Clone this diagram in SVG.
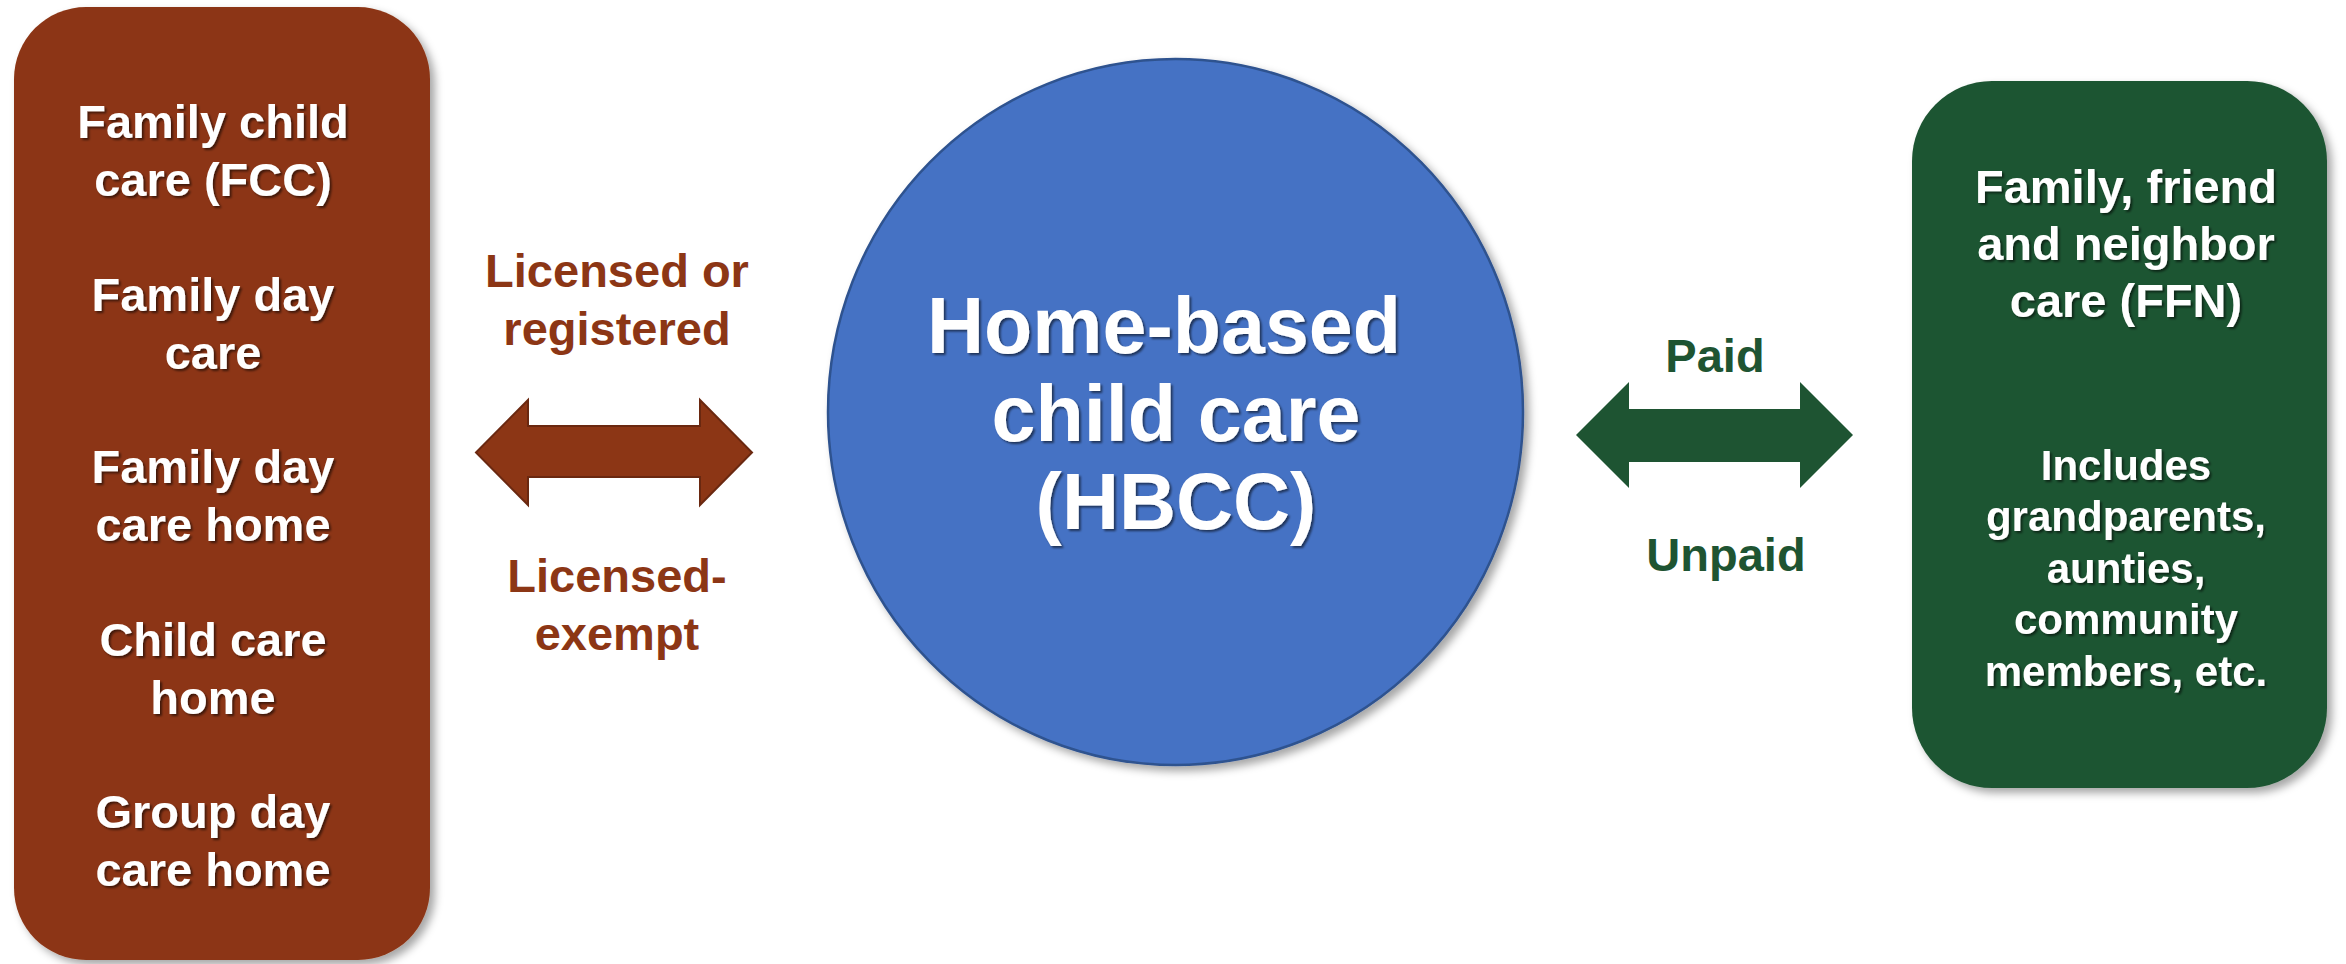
<svg xmlns="http://www.w3.org/2000/svg" width="2346" height="964" viewBox="0 0 2346 964">
  <defs>
    <filter id="boxShadow" x="-10%" y="-10%" width="125%" height="125%">
      <feDropShadow dx="5" dy="5" stdDeviation="4" flood-color="#000" flood-opacity="0.35"/>
    </filter>
    <filter id="textShadow" x="-10%" y="-20%" width="125%" height="150%">
      <feDropShadow dx="2" dy="2" stdDeviation="1" flood-color="#000" flood-opacity="0.55"/>
    </filter>
  </defs>
  <style>
    .t { font-family: "Liberation Sans", Arial, sans-serif; font-weight: bold; text-anchor: middle; }
    .white { fill: #ffffff; filter: url(#textShadow); }
    .brownText { fill: #8C3615; }
    .greenText { fill: #1E5432; }
    .f47 { font-size: 47px; }
    .f42 { font-size: 42px; }
    .f78 { font-size: 79px; }
  </style>
  <rect width="2346" height="964" fill="#ffffff"/>

  <g id="node-left">
    <rect x="14" y="7" width="416" height="953" rx="72" ry="72" fill="#8C3615" filter="url(#boxShadow)"/>
    <g class="t white f47">
      <text x="213" y="138">Family child</text>
      <text x="213" y="196">care (FCC)</text>
      <text x="213" y="311">Family day</text>
      <text x="213" y="369">care</text>
      <text x="213" y="483">Family day</text>
      <text x="213" y="541">care home</text>
      <text x="213" y="656">Child care</text>
      <text x="213" y="714">home</text>
      <text x="213" y="828">Group day</text>
      <text x="213" y="886">care home</text>
    </g>
  </g>

  <g id="node-center">
    <ellipse cx="1175.5" cy="412" rx="347.5" ry="353" fill="#4472C4" stroke="#2F528F" stroke-width="2.5" filter="url(#boxShadow)"/>
    <g class="t white f78">
      <text x="1164" y="353">Home-based</text>
      <text x="1176" y="441">child care</text>
      <text x="1176" y="529">(HBCC)</text>
    </g>
  </g>

  <g id="node-right">
    <rect x="1912" y="81" width="415" height="707" rx="80" ry="80" fill="#1E5432" filter="url(#boxShadow)"/>
    <g class="t white f47">
      <text x="2126" y="203">Family, friend</text>
      <text x="2126" y="260">and neighbor</text>
      <text x="2126" y="317">care (FFN)</text>
    </g>
    <g class="t white f42">
      <text x="2126" y="480">Includes</text>
      <text x="2126" y="531">grandparents,</text>
      <text x="2126" y="583">aunties,</text>
      <text x="2126" y="634">community</text>
      <text x="2126" y="686">members, etc.</text>
    </g>
  </g>

  <g id="connectors">
    <g id="connector-left">
      <polygon points="476,452.5 528,400 528,426 700,426 700,400 752,452.5 700,505 700,477 528,477 528,505" fill="#8C3615" stroke="#6A2810" stroke-width="2" stroke-linejoin="miter"/>
      <g class="t brownText f47">
        <text x="617" y="287">Licensed or</text>
        <text x="617" y="345">registered</text>
        <text x="617" y="592">Licensed-</text>
        <text x="617" y="650">exempt</text>
      </g>
    </g>
    <g id="connector-right">
      <polygon points="1576,435 1629,382 1629,409 1800,409 1800,382 1853,435 1800,488 1800,462 1629,462 1629,488" fill="#1E5432"/>
      <g class="t greenText f47">
        <text x="1715" y="372">Paid</text>
        <text x="1726" y="571">Unpaid</text>
      </g>
    </g>
  </g>
</svg>
